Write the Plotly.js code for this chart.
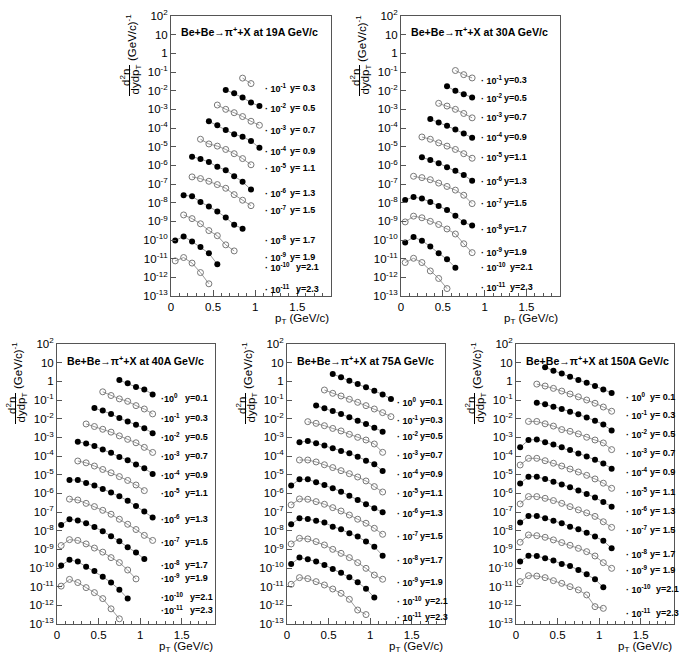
<!DOCTYPE html>
<html><head><meta charset="utf-8">
<script src="https://cdn.plot.ly/plotly-3.0.1.min.js"></script>
<style>body{margin:0;background:#fff}#chart{width:685px;height:654px}</style>
</head><body><div id="chart"></div>
<script>
// ---------------- data ----------------
const energies = ['19A', '30A', '40A', '75A', '150A'];
const rapTop = [0.3,0.5,0.7,0.9,1.1,1.3,1.5,1.7,1.9,2.1,2.3];
const expTop = [-1,-2,-3,-4,-5,-6,-7,-8,-9,-10,-11];
const rapBot = [0.1,0.3,0.5,0.7,0.9,1.1,1.3,1.5,1.7,1.9,2.1,2.3];
const expBot = [0,-1,-2,-3,-4,-5,-6,-7,-8,-9,-10,-11];
const xTickVals = [0, 0.5, 1, 1.5];
const xTickText = ['0', '0.5', '1', '1.5'];
const yTickExp = [-13,-12,-11,-10,-9,-8,-7,-6,-5,-4,-3,-2,-1,0,1,2];

// pT bin centres and scaled spectra (as drawn, i.e. multiplied by 10^exp)
const pt19 = [
 [0.85,0.95],
 [0.65,0.75,0.85,0.95,1.05],
 [0.55,0.65,0.75,0.85,0.95,1.05],
 [0.45,0.55,0.65,0.75,0.85,0.95,1.05],
 [0.35,0.45,0.55,0.65,0.75,0.85,0.95],
 [0.25,0.35,0.45,0.55,0.65,0.75,0.85,0.95],
 [0.25,0.35,0.45,0.55,0.65,0.75,0.85,0.95],
 [0.15,0.25,0.35,0.45,0.55,0.65,0.75,0.85],
 [0.15,0.25,0.35,0.45,0.55,0.65,0.75],
 [0.05,0.15,0.25,0.35,0.45,0.55],
 [0.05,0.15,0.25,0.35,0.45]];
const dn19 = [
 [4.7e-2,2.4e-2],
 [1.1e-2,7.2e-3,4.3e-3,2.3e-3,1.5e-3],
 [1.7e-3,1.0e-3,6.6e-4,4.1e-4,2.3e-4,1.4e-4],
 [2.3e-4,1.4e-4,7.8e-5,4.6e-5,3.4e-5,2.0e-5,8.7e-6],
 [2.5e-5,1.4e-5,1.07e-5,7.1e-6,4.2e-6,2.3e-6,1.07e-6],
 [2.9e-6,2.2e-6,1.5e-6,8.3e-7,5.5e-7,2.6e-7,1.3e-7,5.0e-8],
 [2.4e-7,1.95e-7,1.4e-7,9.3e-8,5.9e-8,2.7e-8,1.35e-8,6.9e-9],
 [2.5e-8,2.2e-8,1.1e-8,6.3e-9,3.4e-9,1.6e-9,6.6e-10,4.0e-10],
 [2.2e-9,1.4e-9,7.4e-10,3.2e-10,1.7e-10,5.5e-11,2.6e-11],
 [9.3e-11,1.55e-10,8.3e-11,4.2e-11,1.95e-11,5.0e-12],
 [7.6e-12,1.15e-11,5.8e-12,1.8e-12,4.5e-13]];

const pt30 = [
 [0.65,0.75,0.85],
 [0.55,0.65,0.75,0.85],
 [0.45,0.55,0.65,0.75,0.85],
 [0.35,0.45,0.55,0.65,0.75,0.85],
 [0.25,0.35,0.45,0.55,0.65,0.75,0.85],
 [0.25,0.35,0.45,0.55,0.65,0.75,0.85],
 [0.15,0.25,0.35,0.45,0.55,0.65,0.75,0.85],
 [0.05,0.15,0.25,0.35,0.45,0.55,0.65,0.75,0.85],
 [0.05,0.15,0.25,0.35,0.45,0.55,0.65,0.75,0.85],
 [0.05,0.15,0.25,0.35,0.45,0.55,0.65],
 [0.05,0.15,0.25,0.35,0.45,0.55]];
const dn30 = [
 [0.12,0.072,0.048],
 [1.7e-2,9.8e-3,6.5e-3,4.3e-3],
 [2.1e-3,1.5e-3,1.0e-3,6.0e-4,3.5e-4],
 [3.0e-4,2.0e-4,1.3e-4,8.3e-5,5.0e-5,3.0e-5],
 [3.3e-5,2.5e-5,1.6e-5,1.07e-5,7.1e-6,4.2e-6,2.4e-6],
 [2.75e-6,1.95e-6,1.3e-6,7.9e-7,5.1e-7,3.0e-7,1.5e-7],
 [2.6e-7,2.2e-7,1.7e-7,1.12e-7,7.4e-8,4.7e-8,2.5e-8,8.9e-9],
 [1.4e-8,2.0e-8,1.65e-8,1.1e-8,6.6e-9,4.0e-9,2.0e-9,8.9e-10,5.9e-10],
 [9.3e-10,1.9e-9,1.55e-9,1.0e-9,6.8e-10,3.9e-10,2.1e-10,6.3e-11,2.1e-11],
 [7.4e-11,1.45e-10,9.1e-11,4.5e-11,1.95e-11,9.3e-12,3.3e-12],
 [6.2e-12,1.05e-11,6.2e-12,2.2e-12,8.7e-13,2.5e-13]];

const pt40 = [
 [0.75,0.85,0.95,1.05,1.15],
 [0.55,0.65,0.75,0.85,0.95,1.05,1.15],
 [0.45,0.55,0.65,0.75,0.85,0.95,1.05,1.15],
 [0.35,0.45,0.55,0.65,0.75,0.85,0.95,1.05,1.15],
 [0.25,0.35,0.45,0.55,0.65,0.75,0.85,0.95,1.05,1.15],
 [0.25,0.35,0.45,0.55,0.65,0.75,0.85,0.95,1.05],
 [0.15,0.25,0.35,0.45,0.55,0.65,0.75,0.85,0.95,1.05,1.15],
 [0.15,0.25,0.35,0.45,0.55,0.65,0.75,0.85,0.95,1.05,1.15],
 [0.05,0.15,0.25,0.35,0.45,0.55,0.65,0.75,0.85,0.95,1.05],
 [0.05,0.15,0.25,0.35,0.45,0.55,0.65,0.75,0.85,0.95],
 [0.05,0.15,0.25,0.35,0.45,0.55,0.65,0.75,0.85],
 [0.05,0.15,0.25,0.35,0.45,0.55,0.65,0.75]];
const dn40 = [
 [1.17,0.78,0.49,0.37,0.2],
 [0.275,0.174,0.115,0.085,0.05,0.033,0.018],
 [0.037,0.027,0.018,0.0107,0.0071,0.0047,0.0031,0.00166],
 [5.2e-3,3.8e-3,2.7e-3,1.9e-3,1.2e-3,7.8e-4,5.1e-4,2.9e-4,1.55e-4],
 [5.8e-4,4.7e-4,3.4e-4,2.2e-4,1.5e-4,8.9e-5,5.9e-5,3.5e-5,2.2e-5,1.1e-5],
 [5.4e-5,4.3e-5,2.9e-5,1.9e-5,1.26e-5,7.9e-6,4.9e-6,2.8e-6,1.4e-6],
 [5.2e-6,5.2e-6,3.6e-6,2.6e-6,1.7e-6,1.12e-6,6.9e-7,4.0e-7,2.1e-7,1.05e-7,5.0e-8],
 [4.9e-7,4.4e-7,2.9e-7,1.95e-7,1.23e-7,7.6e-8,4.1e-8,2.2e-8,1.15e-8,5.6e-9,3.0e-9],
 [2.0e-8,4.1e-8,3.5e-8,2.5e-8,1.55e-8,9.3e-9,5.0e-9,2.7e-9,1.3e-9,6.8e-10,3.0e-10],
 [1.6e-9,3.3e-9,3.0e-9,1.95e-9,1.17e-9,7.1e-10,3.6e-10,1.95e-10,7.8e-11,2.6e-11],
 [1.35e-10,2.75e-10,2.2e-10,1.17e-10,6.9e-11,3.4e-11,1.66e-11,6.9e-12,2.3e-12],
 [1.07e-11,2.45e-11,1.66e-11,8.9e-12,4.8e-12,2.3e-12,6.5e-13,1.9e-13]];

const pt75 = [
 [0.55,0.65,0.75,0.85,0.95,1.05,1.15,1.25],
 [0.45,0.55,0.65,0.75,0.85,0.95,1.05,1.15,1.25],
 [0.35,0.45,0.55,0.65,0.75,0.85,0.95,1.05,1.15],
 [0.25,0.35,0.45,0.55,0.65,0.75,0.85,0.95,1.05,1.15],
 [0.15,0.25,0.35,0.45,0.55,0.65,0.75,0.85,0.95,1.05,1.15],
 [0.15,0.25,0.35,0.45,0.55,0.65,0.75,0.85,0.95,1.05,1.15],
 [0.05,0.15,0.25,0.35,0.45,0.55,0.65,0.75,0.85,0.95,1.05,1.15],
 [0.05,0.15,0.25,0.35,0.45,0.55,0.65,0.75,0.85,0.95,1.05,1.15],
 [0.05,0.15,0.25,0.35,0.45,0.55,0.65,0.75,0.85,0.95,1.05,1.15],
 [0.05,0.15,0.25,0.35,0.45,0.55,0.65,0.75,0.85,0.95,1.05,1.15],
 [0.05,0.15,0.25,0.35,0.45,0.55,0.65,0.75,0.85,0.95,1.05],
 [0.05,0.15,0.25,0.35,0.45,0.55,0.65,0.75,0.85,0.95]];
const dn75 = [
 [2.47,1.64,1.09,0.72,0.48,0.316,0.20,0.113],
 [0.343,0.228,0.164,0.109,0.075,0.050,0.033,0.021,0.0128],
 [0.050,0.036,0.026,0.0178,0.0118,0.0078,0.0052,0.0033,0.0020],
 [6.9e-3,5.6e-3,4.2e-3,3.0e-3,2.2e-3,1.45e-3,1.0e-3,7.2e-4,4.4e-4,1.57e-4],
 [5.4e-4,6.4e-4,4.8e-4,3.6e-4,2.6e-4,1.85e-4,1.39e-4,9.2e-5,5.6e-5,3.6e-5,1.57e-5],
 [6.1e-5,6.1e-5,4.8e-5,3.4e-5,2.4e-5,1.64e-5,1.13e-5,7.5e-6,4.6e-6,2.3e-6,1.18e-6],
 [2.6e-6,5.6e-6,5.6e-6,3.9e-6,2.8e-6,1.86e-6,1.23e-6,7.5e-7,4.4e-7,2.6e-7,1.57e-7,9.6e-8],
 [2.4e-7,5.0e-7,4.8e-7,3.6e-7,2.6e-7,1.71e-7,1.13e-7,6.9e-8,4.1e-8,2.5e-8,1.34e-8,6.4e-9],
 [2.2e-8,4.6e-8,4.2e-8,3.4e-8,2.7e-8,1.64e-8,1.18e-8,7.2e-9,4.8e-9,2.6e-9,1.39e-9,4.6e-10],
 [1.94e-9,3.9e-9,3.6e-9,2.6e-9,1.71e-9,1.0e-9,6.1e-10,3.6e-10,1.94e-10,9.6e-11,4.2e-11,2.5e-11],
 [1.64e-10,3.6e-10,2.9e-10,2.2e-10,1.45e-10,8.9e-11,5.6e-11,3.2e-11,1.71e-11,7.8e-12,2.6e-12],
 [1.34e-11,3.05e-11,2.7e-11,1.86e-11,1.23e-11,7.5e-12,4.4e-12,2.1e-12,5.6e-13,3.2e-13]];

const pt150 = [
 [0.35,0.45,0.55,0.65,0.75,0.85,0.95,1.05,1.15],
 [0.25,0.35,0.45,0.55,0.65,0.75,0.85,0.95,1.05,1.15],
 [0.25,0.35,0.45,0.55,0.65,0.75,0.85,0.95,1.05,1.15],
 [0.15,0.25,0.35,0.45,0.55,0.65,0.75,0.85,0.95,1.05,1.15],
 [0.05,0.15,0.25,0.35,0.45,0.55,0.65,0.75,0.85,0.95,1.05,1.15],
 [0.05,0.15,0.25,0.35,0.45,0.55,0.65,0.75,0.85,0.95,1.05,1.15],
 [0.05,0.15,0.25,0.35,0.45,0.55,0.65,0.75,0.85,0.95,1.05,1.15],
 [0.05,0.15,0.25,0.35,0.45,0.55,0.65,0.75,0.85,0.95,1.05,1.15],
 [0.05,0.15,0.25,0.35,0.45,0.55,0.65,0.75,0.85,0.95,1.05,1.15],
 [0.05,0.15,0.25,0.35,0.45,0.55,0.65,0.75,0.85,0.95,1.05,1.15],
 [0.05,0.15,0.25,0.35,0.45,0.55,0.65,0.75,0.85,0.95,1.05],
 [0.05,0.15,0.25,0.35,0.45,0.55,0.65,0.75,0.85,0.95,1.05]];
const dn150 = [
 [5.6,3.7,2.6,1.78,1.17,0.84,0.56,0.37,0.24],
 [0.71,0.56,0.42,0.30,0.21,0.148,0.10,0.067,0.042,0.025],
 [0.072,0.059,0.044,0.033,0.0237,0.017,0.0117,0.0077,0.0049,0.0023],
 [7.1e-3,7.1e-3,5.3e-3,4.0e-3,2.6e-3,2.1e-3,1.53e-3,1.01e-3,7.2e-4,5.0e-4,2.2e-4],
 [2.9e-4,7.2e-4,7.6e-4,5.4e-4,4.1e-4,2.9e-4,2.1e-4,1.38e-4,9.5e-5,6.3e-5,4.0e-5,2.1e-5],
 [3.3e-5,7.5e-5,7.5e-5,5.6e-5,4.1e-5,2.9e-5,2.0e-5,1.39e-5,9.2e-6,5.9e-6,3.5e-6,1.86e-6],
 [3.4e-6,7.8e-6,7.8e-6,5.9e-6,4.2e-6,3.0e-6,2.1e-6,1.40e-6,9.2e-7,5.9e-7,3.4e-7,1.94e-7],
 [2.7e-7,6.7e-7,6.7e-7,5.4e-7,4.1e-7,2.9e-7,1.94e-7,1.3e-7,9.0e-8,5.8e-8,3.0e-8,1.5e-8],
 [2.7e-8,6.1e-8,6.1e-8,4.6e-8,3.4e-8,2.5e-8,1.64e-8,1.18e-8,7.8e-9,4.8e-9,2.9e-9,1.13e-9],
 [2.4e-9,5.9e-9,5.4e-9,4.4e-9,3.2e-9,2.3e-9,1.65e-9,1.13e-9,7.5e-10,4.4e-10,1.93e-10,9.6e-11],
 [2.2e-10,4.6e-10,4.4e-10,3.3e-10,2.5e-10,1.64e-10,1.28e-10,7.8e-11,4.6e-11,2.5e-11,9.2e-12],
 [1.86e-11,3.9e-11,3.7e-11,3.05e-11,2.1e-11,1.51e-11,1.0e-11,6.7e-12,3.6e-12,8.5e-13,6.9e-13]];

// ---------------- layout helpers (positions, not data) ----------------
const W = 685, H = 654;
const panels = [
 {pt: pt19,  dn: dn19,  rap: rapTop, ex: expTop, px: [171,331], py: [16,296],
  labY: [-1.86,-2.93,-4.11,-5.23,-6.14,-7.48,-8.39,-10.0,-10.91,-11.44,-12.62], dotX: 1.095, colX: 1.39, sp: true, dotSp: true},
 {pt: pt30,  dn: dn30,  rap: rapTop, ex: expTop, px: [401,560], py: [16,296],
  labY: [-1.43,-2.39,-3.41,-4.48,-5.55,-6.84,-8.02,-9.41,-10.64,-11.44,-12.52], dotX: 0.93, colX: 1.21, sp: false, dotSp: true},
 {pt: pt40,  dn: dn40,  rap: rapBot, ex: expBot, px: [57,215], py: [344,624],
  labY: [-0.89,-1.96,-2.98,-4.0,-5.02,-5.98,-7.37,-8.61,-9.84,-10.53,-11.55,-12.25], dotX: 1.23, colX: 1.51, sp: false, dotSp: false},
 {pt: pt75,  dn: dn75,  rap: rapBot, ex: expBot, px: [287,445], py: [344,624],
  labY: [-1.11,-2.07,-2.93,-3.95,-4.96,-5.98,-7.05,-8.28,-9.57,-10.75,-11.77,-12.62], dotX: 1.30, colX: 1.57, sp: false, dotSp: true},
 {pt: pt150, dn: dn150, rap: rapBot, ex: expBot, px: [516,674], py: [344,624],
  labY: [-0.84,-1.80,-2.82,-3.84,-4.86,-5.93,-6.94,-7.96,-9.25,-10.10,-11.12,-12.41], dotX: 1.30, colX: 1.59, sp: true, dotSp: true}
];

const FONT = 'Liberation Sans, Arial, Helvetica, sans-serif';
const yTickVals = yTickExp.map(e => Math.pow(10, e));
const yTickText = yTickExp.map(e => e === 0 ? '1' : (e === 1 ? '10' : '10<sup>' + (e < 0 ? '-' : '') + Math.abs(e) + '</sup>'));

const traces = [];
const annotations = [];
const shapes = [];
const layout = {
  width: W, height: H, margin: {l: 0, r: 0, t: 0, b: 0},
  paper_bgcolor: '#fff', plot_bgcolor: '#fff', showlegend: false, hovermode: false,
  font: {family: FONT, color: '#000'}
};

panels.forEach((p, i) => {
  const n = i + 1;
  const xa = n === 1 ? 'x' : 'x' + n;
  const ya = n === 1 ? 'y' : 'y' + n;
  const xKey = n === 1 ? 'xaxis' : 'xaxis' + n;
  const yKey = n === 1 ? 'yaxis' : 'yaxis' + n;
  layout[xKey] = {
    domain: [p.px[0] / W, p.px[1] / W], anchor: ya, range: [0, 1.9],
    showgrid: false, zeroline: false, showline: true, mirror: true, linecolor: '#555', linewidth: 1,
    ticks: 'inside', ticklen: 6, tickcolor: '#555', tickmode: 'array', tickvals: xTickVals, ticktext: xTickText,
    minor: {ticks: 'inside', ticklen: 3, dtick: 0.1, tick0: 0, tickcolor: '#555', showgrid: false},
    tickfont: {size: 11.5, family: FONT, color: '#000'}, fixedrange: true
  };
  layout[yKey] = {
    domain: [1 - p.py[1] / H, 1 - p.py[0] / H], anchor: xa, type: 'log', range: [-13, 2],
    showgrid: false, zeroline: false, showline: true, mirror: true, linecolor: '#555', linewidth: 1,
    ticks: 'inside', ticklen: 5, tickcolor: '#555', tickmode: 'array', tickvals: yTickVals, ticktext: yTickText,
    tickfont: {size: 11.5, family: FONT, color: '#000'}, fixedrange: true
  };

  p.pt.forEach((xs, s) => {
    const rIdx = Math.round((p.rap[s] - 0.1) / 0.2);
    const filled = rIdx % 2 === 0;
    traces.push({
      x: xs, y: p.dn[s], xaxis: xa, yaxis: ya, type: 'scatter', mode: 'lines+markers',
      line: {color: '#9a9a9a', width: 1},
      marker: filled ? {symbol: 'circle', size: 6, color: '#000', line: {width: 0}}
                     : {symbol: 'circle-open', size: 6, color: '#777', line: {width: 1, color: '#777'}},
      cliponaxis: true
    });
    const e = p.ex[s];
    annotations.push({
      xref: xa, yref: ya, x: p.dotX, y: p.labY[s], xanchor: 'left', yanchor: 'middle', showarrow: false,
      text: '<b>·' + (p.dotSp ? ' ' : '') + '10<sup>' + (e < 0 ? '-' : '') + Math.abs(e) + '</sup></b>',
      font: {size: 9, family: FONT, color: '#000'}
    });
    const eq = (p.sp && p.rap[s] < 2.0) ? 'y= ' : 'y=';
    const shift = e <= -10 ? 0.07 : 0;
    annotations.push({
      xref: xa, yref: ya, x: p.colX + shift, y: p.labY[s], xanchor: 'left', yanchor: 'middle', showarrow: false,
      text: '<b>' + eq + p.rap[s].toFixed(1) + '</b>',
      font: {size: 9, family: FONT, color: '#000'}
    });
  });

  // panel title
  annotations.push({
    xref: 'paper', yref: 'paper', x: (p.px[0] + 8) / W, y: 1 - (p.py[0] + 16) / H,
    xanchor: 'left', yanchor: 'middle', showarrow: false,
    text: '<b>Be+Be→π<sup>+</sup>+X at ' + energies[i] + ' GeV/c</b>',
    font: {size: 10.6, family: FONT, color: '#000'}
  });
  // x-axis title
  annotations.push({
    xref: 'paper', yref: 'paper', x: p.px[1] / W, y: 1 - (p.py[1] + 23) / H,
    xanchor: 'right', yanchor: 'middle', showarrow: false,
    text: 'p<sub>T</sub> (GeV/c)', font: {size: 11.5, family: FONT, color: '#000'}
  });
  // y-axis title (fraction, rotated)
  const L = p.px[0], T = p.py[0];
  annotations.push({
    xref: 'paper', yref: 'paper', x: (L - 40) / W, y: 1 - (T + 22) / H,
    xanchor: 'center', yanchor: 'middle', showarrow: false, textangle: -90,
    text: '(GeV/c)<sup>-1</sup>', font: {size: 11.5, family: FONT, color: '#000'}
  });
  annotations.push({
    xref: 'paper', yref: 'paper', x: (L - 46) / W, y: 1 - (T + 62) / H,
    xanchor: 'center', yanchor: 'middle', showarrow: false, textangle: -90,
    text: 'd<sup>2</sup>n', font: {size: 11.5, family: FONT, color: '#000'}
  });
  annotations.push({
    xref: 'paper', yref: 'paper', x: (L - 35.5) / W, y: 1 - (T + 64) / H,
    xanchor: 'center', yanchor: 'middle', showarrow: false, textangle: -90,
    text: 'dydp<sub>T</sub>', font: {size: 11.5, family: FONT, color: '#000'}
  });
  shapes.push({
    type: 'line', xref: 'paper', yref: 'paper',
    x0: (L - 41.5) / W, x1: (L - 41.5) / W, y0: 1 - (T + 49) / H, y1: 1 - (T + 80) / H,
    line: {color: '#000', width: 1}
  });
});

layout.annotations = annotations;
layout.shapes = shapes;
Plotly.newPlot('chart', traces, layout, {staticPlot: true, displayModeBar: false});
</script>
</body></html>
